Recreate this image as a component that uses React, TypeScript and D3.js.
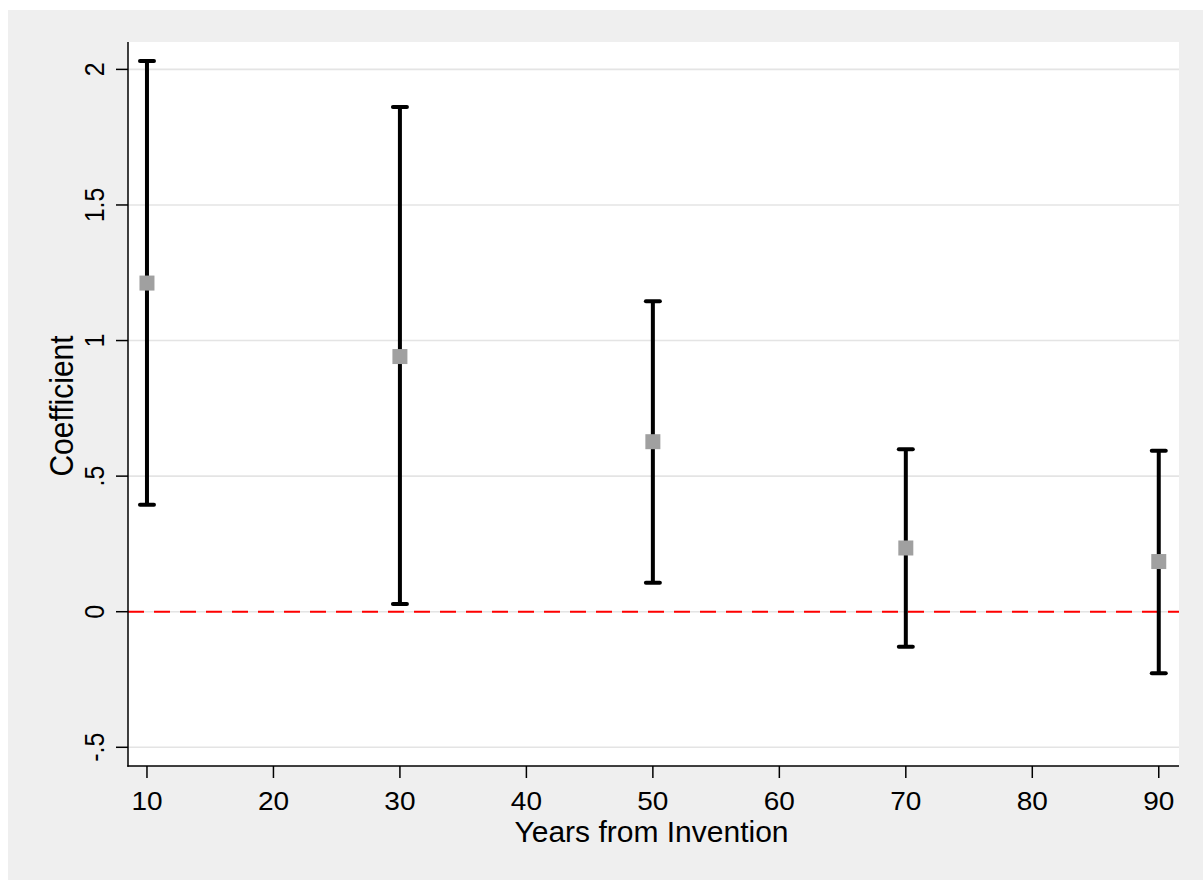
import React from "react";
import * as d3 from "d3";

const years = [10, 30, 50, 70, 90];
const coef = [1.212, 0.941, 0.627, 0.235, 0.185];
const lower = [0.394, 0.028, 0.107, -0.129, -0.227];
const upper = [2.031, 1.861, 1.145, 0.599, 0.594];
const yTicks = [-0.5, 0, 0.5, 1, 1.5, 2];
const yTickLabels = ["-.5", "0", ".5", "1", "1.5", "2"];
const xTicks = [10, 20, 30, 40, 50, 60, 70, 80, 90];
const xTitle = "Years from Invention";
const yTitle = "Coefficient";

const W = 1203;
const H = 880;
const L = 128, R = 1179, T = 42, B = 766;
const FONT = "'Liberation Sans', Arial, Helvetica, sans-serif";

export default function App() {
  const x = d3.scaleLinear().domain([8.5, 91.6]).range([L, R]);
  const y = d3.scaleLinear().domain([-0.569, 2.101]).range([B, T]);
  const capHalf = 7;
  const ms = 15;
  return (
    <svg width={W} height={H} style={{ position: "absolute", left: 0, top: 0 }}>
      <rect x={0} y={0} width={W} height={H} fill="#ffffff" />
      <rect x={8} y={10} width={W - 8} height={H - 10} fill="#efefef" />
      <rect x={L} y={T} width={R - L} height={B - T} fill="#ffffff" />
      {yTicks.map((t) => (
        <line key={"g" + t} x1={L} x2={R} y1={y(t)} y2={y(t)} stroke="#e4e4e4" strokeWidth={1.6} />
      ))}
      <line x1={L} x2={R} y1={y(0)} y2={y(0)} stroke="#ff0000" strokeWidth={2} strokeDasharray="16 10" />
      {years.map((yr, i) => (
        <g key={"e" + yr}>
          <line x1={x(yr)} x2={x(yr)} y1={y(lower[i])} y2={y(upper[i])} stroke="#000" strokeWidth={4} />
          <line x1={x(yr) - capHalf} x2={x(yr) + capHalf} y1={y(upper[i])} y2={y(upper[i])} stroke="#000" strokeWidth={4} strokeLinecap="round" />
          <line x1={x(yr) - capHalf} x2={x(yr) + capHalf} y1={y(lower[i])} y2={y(lower[i])} stroke="#000" strokeWidth={4} strokeLinecap="round" />
          <rect x={x(yr) - ms / 2} y={y(coef[i]) - ms / 2} width={ms} height={ms} fill="#a0a0a0" />
        </g>
      ))}
      <line x1={L} x2={L} y1={T} y2={B + 0.7} stroke="#000" strokeWidth={1.5} />
      <line x1={L - 0.7} x2={R} y1={B} y2={B} stroke="#000" strokeWidth={1.5} />
      {yTicks.map((t, i) => (
        <g key={"yt" + t}>
          <line x1={L - 12} x2={L} y1={y(t)} y2={y(t)} stroke="#000" strokeWidth={1.5} />
          <text
            transform={`translate(104,${y(t)}) scale(1.12,1) rotate(-90)`}
            textAnchor="middle"
            fontFamily={FONT}
            fontSize={25}
            fill="#000"
          >
            {yTickLabels[i]}
          </text>
        </g>
      ))}
      {xTicks.map((t) => (
        <g key={"xt" + t}>
          <line x1={x(t)} x2={x(t)} y1={B} y2={B + 12} stroke="#000" strokeWidth={1.5} />
          <text
            transform={`translate(${x(t)},810) scale(1.12,1)`}
            textAnchor="middle"
            fontFamily={FONT}
            fontSize={25}
            fill="#000"
          >
            {t}
          </text>
        </g>
      ))}
      <text
        transform={`translate(${(L + R) / 2 - 2},842)`}
        textAnchor="middle"
        fontFamily={FONT}
        fontSize={30}
        fill="#000"
      >
        {xTitle}
      </text>
      <text
        transform={`translate(73,${(T + B) / 2 + 2}) scale(1.12,1) rotate(-90)`}
        textAnchor="middle"
        fontFamily={FONT}
        fontSize={30}
        fill="#000"
      >
        {yTitle}
      </text>
    </svg>
  );
}
